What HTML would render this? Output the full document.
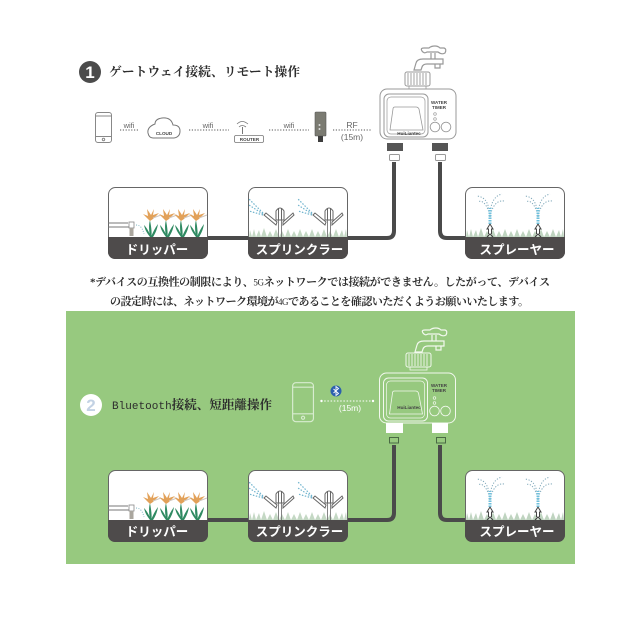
<!DOCTYPE html>
<html lang="ja"><head><meta charset="utf-8"><title>Diagram</title>
<style>
html,body{margin:0;padding:0;background:#fff}
svg{display:block}
.t{font-family:"Liberation Serif","Noto Serif CJK SC","Noto Serif CJK JP",serif;fill:#2d2d2d}
.s{font-family:"Liberation Sans",sans-serif;fill:#666}
.l{font-family:"Liberation Sans","Noto Sans CJK JP",sans-serif;font-weight:700;font-size:12.5px;fill:#fff;text-anchor:middle}
</style></head><body>
<svg width="640" height="640" viewBox="0 0 640 640" xmlns="http://www.w3.org/2000/svg">
<defs>
<g id="base"><rect x=".5" y=".5" width="99" height="71" rx="7" fill="#fff" stroke="#666"/><path d="M0 50H100V65a7 7 0 0 1-7 7H7a7 7 0 0 1-7-7Z" fill="#4e4b4b"/></g>
<g id="flower">
<path d="M0 25 C-1 18 -1.500 13 0 8 C1 14 2 19 1.500 25Z M0 25 C-3 21 -5 18 -6 13 C-3 16 -1 20 1 25Z M1 25 C3 20 5 16 8 12 C7 18 5 22 3 25Z" fill="#2f8a62"/>
<path d="M0 9 L-7 2 L-2 4 L-3 -3 L1 3 L4 -3 L3 3 L9 1 L3 7Z" fill="#e2a159"/><path d="M3 6 L11 3" stroke="#cfc6bd"/>
</g>
<g id="drip"><use href="#base"/>
<path d="M0 36H20M0 40H21" stroke="#777" stroke-width="1" fill="none"/><rect x="21" y="35" width="5" height="6" fill="#fff" stroke="#888" stroke-width=".8"/><rect x="21.500" y="41" width="4" height="8" fill="#aaa69e"/>
<path d="M28 38 Q34 38 36 47" fill="none" stroke="#7fb7c4" stroke-width="1" stroke-dasharray="1 1.500"/>
<use href="#flower" x="42" y="25"/><use href="#flower" x="58" y="25"/><use href="#flower" x="73" y="25"/><use href="#flower" x="88" y="25"/>
</g>
<g id="head" fill="none">
<path d="M-1.500 12V29M1.500 12V29" stroke="#777" stroke-width=".9"/>
<path d="M-4 3 Q0 -3 4 3 V12 H-4Z M-1.500 0V12 M1.500 0V12" fill="#fff" stroke="#666" stroke-width="1"/>
<path d="M-3 14 L-14 5 L-16 7 L-4 17Z M3 14 L13 5 L14 7 L3 17Z" fill="#fff" stroke="#666" stroke-width="1"/>
<path d="M-17 5 L-31 -9 M-17 6 L-31 -3 M-17 7 L-31 3" stroke="#6fb3cd" stroke-width="1.200" stroke-dasharray="1.500 1.500"/>
</g>
<g id="sprink"><use href="#base"/>
<path d="M1 50 L2 43 L4 50 L6 42 L8 50 L11 43 L13 50 L16 41 L19 50 L22 44 L25 50 L28 42 L31 50 L34 44 L37 50 L40 42 L43 50 L46 44 L49 50 L52 42 L55 50 L58 44 L61 50 L64 42 L67 50 L70 44 L73 50 L76 42 L79 50 L82 44 L85 50 L88 42 L91 50 L94 43 L96 50 L98 42 L99 50Z" fill="#c4d8c4"/>
<use href="#head" x="32" y="21"/><use href="#head" x="81" y="21"/>
</g>
<g id="spr" fill="none">
<path d="M0 3 C-1 -10-4 -17-13 -18 M0 3 C0 -8 3 -18 12 -20 M0 3 C-2 -9-8 -15-12 -12 M0 3 C2 -8 7 -14 14 -13" stroke="#7fa8ba" stroke-width="1" stroke-dasharray="1.200 1.600"/>
<path d="M0 10 L0 -6" stroke="#6fc0dc" stroke-width="3" stroke-dasharray="1.500 1"/>
<path d="M0 10 L-3 15 H-1.500 V20 M0 10 L3 15 H1.500 V20" stroke="#444" stroke-width="1"/>
<path d="M-3 23 L0 20 L3 23" stroke="#444" stroke-width="1.200"/>
</g>
<g id="spray"><use href="#base"/>
<path d="M1 50 L2 43 L4 50 L6 42 L8 50 L11 43 L13 50 L16 41 L19 50 L22 44 L25 50 L28 42 L31 50 L34 44 L37 50 L40 42 L43 50 L46 44 L49 50 L52 42 L55 50 L58 44 L61 50 L64 42 L67 50 L70 44 L73 50 L76 42 L79 50 L82 44 L85 50 L88 42 L91 50 L94 43 L96 50 L98 42 L99 50Z" fill="#bfd4c0"/>
<use href="#spr" x="25" y="27"/><use href="#spr" x="73" y="27"/>
</g>
<g id="tap" fill="none" stroke-width="1.200">
<path d="M3 24 L5 17 Q6 13 12 13 H32 V18 H16 Q12 18 11 21 L10 24Z"/>
<path d="M11 5 Q9 2 13 2 H18 Q20 0 24 0 Q27 0 29 2 H33 Q36 3 34 7 Q31 9 27 6 H16 Q13 8 11 5Z"/>
<path d="M20 7V13M24 7V13M24 18V22H29V18"/>
</g>
<g id="nut"><rect x="0" y="0" width="25" height="14" rx="2" fill="none" stroke-width="1"/>
<path d="M3 1V13M6 1V13M9 1V13M12 1V13M15 1V13M18 1V13M21 1V13" stroke-width=".9"/>
<rect x="4" y="14" width="17" height="3" fill="none" stroke-width=".8"/></g>
<g id="dev" fill="none">
<rect x="0" y="0" width="76" height="50" rx="7" stroke-width="1"/>
<rect x="4" y="5" width="44" height="43" rx="5" stroke-width="1"/>
<rect x="7" y="8" width="38" height="37" rx="4" stroke-width=".7"/>
<path d="M13 20 Q13 18 15 18 H36 Q38 18 39 20 L43 41 H10Z" stroke-width=".8"/>
<circle cx="55" cy="38" r="4.800" stroke-width=".9"/><circle cx="66" cy="38" r="4.800" stroke-width=".9"/>
<circle cx="55" cy="25" r="1.300" stroke-width=".7"/><circle cx="55" cy="30" r="1.300" stroke-width=".7"/>
</g>
<g id="phone" fill="none"><rect x=".5" y=".5" width="16" height="30" rx="2.500"/><path d="M.5 4H16.500M.5 24.500H16.500"/><circle cx="8.500" cy="27.500" r="1.200"/></g>
</defs>

<rect width="640" height="640" fill="#fff"/>
<circle cx="90" cy="72" r="11" fill="#4b4b4b"/>
<text x="90" y="78" text-anchor="middle" font-family="Liberation Sans,sans-serif" font-weight="700" font-size="17" fill="#fff">1</text>
<text class="t" x="109" y="76" font-size="12.700" font-weight="700" textLength="191" lengthAdjust="spacing">ゲートウェイ接続、リモート操作</text>

<use href="#phone" x="95" y="112" stroke="#888"/>
<g stroke="#555" stroke-width="1" stroke-dasharray="1.200 1.600" fill="none">
<path d="M120 130H138M189 130H229M269 130H309M333 130H372"/></g>
<g class="s" font-size="7.500" text-anchor="middle">
<text x="129" y="128">wifi</text><text x="208" y="128">wifi</text><text x="289" y="128">wifi</text>
<text x="352" y="128" font-size="8.500">RF</text><text x="352" y="140" font-size="8.500">(15m)</text></g>
<path d="M153 138 H174 Q180 137 180 131 Q180 125 173 125 Q171 117 162 118 Q155 119 155 124 Q147 127 148 133 Q149 138 153 138Z" fill="#fff" stroke="#777"/>
<text x="164" y="135" text-anchor="middle" font-family="Liberation Sans,sans-serif" font-weight="700" font-size="4.600" fill="#444">CLOUD</text>
<path d="M237 124 Q242 119 248 124 M239 127 Q242 124 246 127" fill="none" stroke="#777" stroke-width=".8"/><path d="M242.500 127V134" stroke="#777"/>
<rect x="234.500" y="135.500" width="29" height="7" rx="1.500" fill="#fff" stroke="#777" stroke-width=".8"/>
<text x="249.500" y="141" text-anchor="middle" font-family="Liberation Sans,sans-serif" font-weight="700" font-size="4.600" fill="#444">ROUTER</text>
<rect x="315" y="112" width="11" height="24" rx="1" fill="#7b7b72" stroke="#555" stroke-width=".6"/>
<rect x="318" y="136" width="5" height="6" fill="#3d3d3d"/><circle cx="319.500" cy="129" r="1" fill="#ddd"/><circle cx="319.500" cy="125" r="1" fill="#ddd"/>

<g stroke="#999"><use href="#tap" x="411" y="46"/><use href="#nut" x="405" y="72"/><use href="#dev" x="380" y="89"/></g>
<text x="409" y="135" text-anchor="middle" font-family="Liberation Sans,sans-serif" font-weight="700" font-size="4.600" fill="#444">HuiLiantec</text>
<text x="439" y="104" text-anchor="middle" font-family="Liberation Sans,sans-serif" font-weight="700" font-size="4.500" fill="#444">WATER</text>
<text x="439" y="109" text-anchor="middle" font-family="Liberation Sans,sans-serif" font-weight="700" font-size="4.500" fill="#444">TIMER</text>
<rect x="387" y="143" width="16" height="8" fill="#555"/><rect x="432" y="143" width="16" height="8" fill="#555"/>
<rect x="389.500" y="154.500" width="10" height="6" rx="1" fill="#fff" stroke="#999"/><rect x="435.500" y="154.500" width="10" height="6" rx="1" fill="#fff" stroke="#999"/>

<path d="M208 238H387Q394 238 394 231V162M465 238H447Q440 238 440 231V162" fill="none" stroke="#4a4a4a" stroke-width="4"/>
<use href="#drip" x="108" y="187"/><use href="#sprink" x="248" y="187"/><use href="#spray" x="465" y="187"/>
<text class="l" x="157" y="254">ドリッパー</text><text class="l" x="299.500" y="254">スプリンクラー</text><text class="l" x="517" y="254">スプレーヤー</text>

<text class="t" x="90" y="285.500" font-size="11" font-weight="700" textLength="460" lengthAdjust="spacing">*デバイスの互換性の制限により、<tspan font-weight="400" font-size="9">5G</tspan>ネットワークでは接続ができません。したがって、デバイス</text>
<text class="t" x="110" y="305" font-size="11" font-weight="700" textLength="419" lengthAdjust="spacing">の設定時には、ネットワーク環境が<tspan font-weight="400" font-size="9">4G</tspan>であることを確認いただくようお願いいたします。</text>

<rect x="66" y="311" width="509" height="253" fill="#97c97f"/>
<circle cx="91" cy="405" r="11" fill="#fff"/>
<text x="91" y="411" text-anchor="middle" font-family="Liberation Sans,sans-serif" font-weight="700" font-size="17" fill="#c3d2e4">2</text>
<text class="t" x="112" y="409" font-size="12.500" font-weight="700" textLength="160" lengthAdjust="spacing"><tspan font-family="Liberation Mono,monospace" font-weight="400" font-size="11">Bluetooth</tspan>接続、短距離操作</text>
<g transform="translate(292,382) scale(1.300)" stroke="#d8ecd0" stroke-width=".9"><use href="#phone"/></g>
<path d="M321 401H373" stroke="#fff" stroke-dasharray="1.500 1.700" fill="none"/>
<circle cx="321.500" cy="401" r="1.200" fill="#fff"/><circle cx="373" cy="401" r="1.200" fill="#fff"/>
<circle cx="336" cy="391" r="5.500" fill="#2c5fae"/><path d="M333.500 389L338.500 393.500L336 395.500V386.500L338.500 388.500L333.500 393" fill="none" stroke="#fff" stroke-width=".9"/>
<text x="350" y="411" text-anchor="middle" font-family="Liberation Sans,sans-serif" font-size="8.500" fill="#fff">(15m)</text>

<g stroke="#f2f8ee"><use href="#tap" x="412" y="328"/><use href="#nut" x="406" y="353"/><use href="#dev" x="379.500" y="373"/></g>
<text x="409" y="409" text-anchor="middle" font-family="Liberation Sans,sans-serif" font-weight="700" font-size="4.600" fill="#444">HuiLiantec</text>
<text x="439" y="387" text-anchor="middle" font-family="Liberation Sans,sans-serif" font-weight="700" font-size="4.500" fill="#444">WATER</text>
<text x="439" y="392" text-anchor="middle" font-family="Liberation Sans,sans-serif" font-weight="700" font-size="4.500" fill="#444">TIMER</text>
<rect x="386" y="423" width="17" height="10" fill="#fff"/><rect x="432" y="423" width="16" height="10" fill="#fff"/>
<rect x="389.500" y="437.500" width="9" height="5.500" fill="none" stroke="#4a6a44"/><rect x="436.500" y="437.500" width="9" height="5.500" fill="none" stroke="#4a6a44"/>

<path d="M208 520H387Q394 520 394 513V445M465 520H447Q440 520 440 513V445" fill="none" stroke="#4a4a4a" stroke-width="4"/>
<use href="#drip" x="108" y="470"/><use href="#sprink" x="248" y="470"/><use href="#spray" x="465" y="470"/>
<text class="l" x="157" y="536">ドリッパー</text><text class="l" x="299.500" y="536">スプリンクラー</text><text class="l" x="517" y="536">スプレーヤー</text>
</svg>
</body></html>
